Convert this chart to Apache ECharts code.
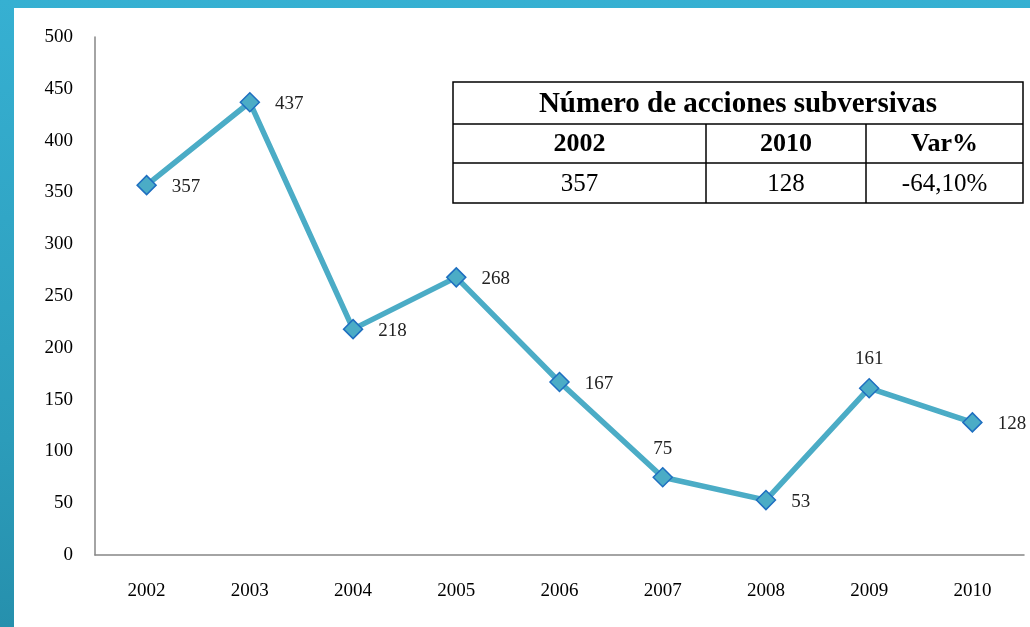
<!DOCTYPE html>
<html>
<head>
<meta charset="utf-8">
<script src="https://cdn.jsdelivr.net/npm/echarts@6/dist/echarts.min.js"></script>
<style>
html, body { margin: 0; padding: 0; }
body {
  width: 1030px; height: 627px; overflow: hidden; position: relative;
  background: linear-gradient(to bottom, #36b0d2, #2c9cba 70%, #2690ad);
}
#chart {
  position: absolute; left: 14px; top: 8px; width: 1016px; height: 619px;
  background: #ffffff;
}
</style>
</head>
<body>
<div id="chart"></div>
<script>
// acciones subversivas por año
var years = ['2002', '2003', '2004', '2005', '2006', '2007', '2008', '2009', '2010'];
var acciones = [357, 437, 218, 268, 167, 75, 53, 161, 128];
var yTicks = [0, 50, 100, 150, 200, 250, 300, 350, 400, 450, 500];

var tableTitle = 'Número de acciones subversivas';
var tableHeader = ['2002', '2010', 'Var%'];
var tableValues = ['357', '128', '-64,10%'];

var dom = document.getElementById('chart');
var myChart = echarts.init(dom);
var serif = '"Liberation Serif", "DejaVu Serif", serif';

// labels that sit above the point instead of to its right
var labelsAbove = ['2007', '2009'];

var seriesData = acciones.map(function (v, i) {
  var above = labelsAbove.indexOf(years[i]) >= 0;
  return {
    value: v,
    label: above ? { position: 'top', distance: 9 } : { position: 'right', distance: 15, offset: [0, 2] }
  };
});

// table drawn with graphic elements
var tx = 439, ty = 74;
var colW = [253, 160, 157];
var rowH = [42, 39, 40];
var tw = colW[0] + colW[1] + colW[2];
var th = rowH[0] + rowH[1] + rowH[2];
var lineStyle = { stroke: '#000', lineWidth: 1.5 };
var tableEls = [
  { type: 'rect', shape: { x: tx, y: ty, width: tw, height: th }, style: { fill: '#fff', stroke: '#000', lineWidth: 1.5 } },
  { type: 'line', shape: { x1: tx, y1: ty + rowH[0], x2: tx + tw, y2: ty + rowH[0] }, style: lineStyle },
  { type: 'line', shape: { x1: tx, y1: ty + rowH[0] + rowH[1], x2: tx + tw, y2: ty + rowH[0] + rowH[1] }, style: lineStyle },
  { type: 'line', shape: { x1: tx + colW[0], y1: ty + rowH[0], x2: tx + colW[0], y2: ty + th }, style: lineStyle },
  { type: 'line', shape: { x1: tx + colW[0] + colW[1], y1: ty + rowH[0], x2: tx + colW[0] + colW[1], y2: ty + th }, style: lineStyle },
  {
    type: 'text', x: tx + tw / 2, y: ty + rowH[0] / 2 + 2,
    style: { text: tableTitle, fill: '#000', font: 'bold 29px ' + serif, align: 'center', verticalAlign: 'middle' }
  }
];
var cx = tx;
for (var c = 0; c < 3; c++) {
  tableEls.push({
    type: 'text', x: cx + colW[c] / 2, y: ty + rowH[0] + rowH[1] / 2 + 1,
    style: { text: tableHeader[c], fill: '#000', font: 'bold 26px ' + serif, align: 'center', verticalAlign: 'middle' }
  });
  tableEls.push({
    type: 'text', x: cx + colW[c] / 2, y: ty + rowH[0] + rowH[1] + rowH[2] / 2 + 1,
    style: { text: tableValues[c], fill: '#000', font: '25px ' + serif, align: 'center', verticalAlign: 'middle' }
  });
  cx += colW[c];
}

var option = {
  animation: false,
  grid: { left: 81, right: 6, top: 29, bottom: 72, containLabel: false },
  xAxis: {
    type: 'category',
    data: years,
    boundaryGap: true,
    axisLine: { lineStyle: { color: '#868686', width: 1.5 } },
    axisTick: { show: false },
    axisLabel: { color: '#000', fontFamily: serif, fontSize: 19, margin: 27 }
  },
  yAxis: {
    type: 'value',
    min: yTicks[0],
    max: yTicks[yTicks.length - 1],
    interval: yTicks[1] - yTicks[0],
    axisLine: { show: true, lineStyle: { color: '#868686', width: 1.5 } },
    axisTick: { show: false },
    splitLine: { show: false },
    axisLabel: { color: '#000', fontFamily: serif, fontSize: 19, margin: 22 }
  },
  series: [
    {
      type: 'line',
      data: seriesData,
      symbol: 'diamond',
      symbolSize: 19,
      lineStyle: { color: '#4bacc6', width: 5.5 },
      itemStyle: { color: '#4bacc6', borderColor: '#1f6fc0', borderWidth: 1.5 },
      label: { show: true, color: '#222', fontFamily: serif, fontSize: 19 },
      z: 3
    }
  ],
  graphic: tableEls
};

myChart.setOption(option);
</script>
</body>
</html>
